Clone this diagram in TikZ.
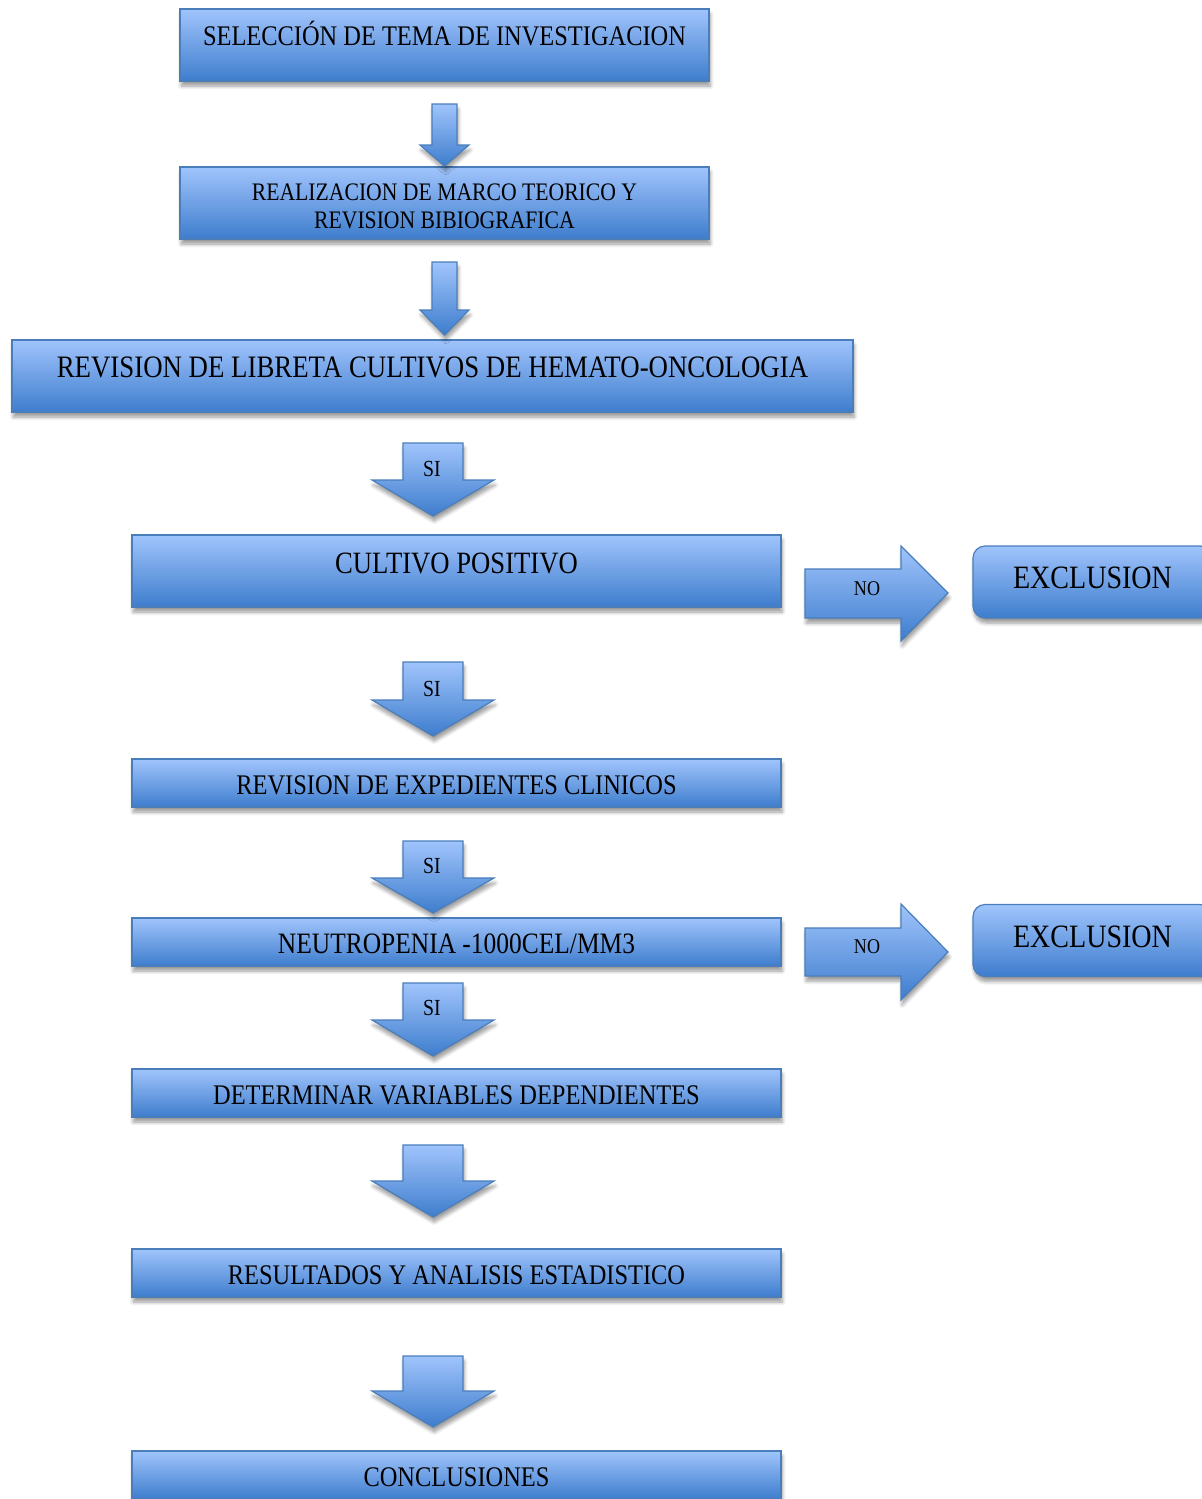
\documentclass[tikz,border=0pt]{standalone}
\usepackage{fontspec}
\setmainfont{Liberation Serif}[FakeStretch=0.86]
\usetikzlibrary{shadows.blur}
\definecolor{boxtop}{RGB}{160,196,252}
\definecolor{boxbot}{RGB}{62,125,205}
\definecolor{boxline}{RGB}{74,126,187}
\tikzset{%
	bluefill/.style = {draw=boxline, line width=0.6pt, top color=boxtop, bottom color=boxbot,
		blur shadow={shadow xshift=0.6pt, shadow yshift=-2.5pt, shadow blur steps=6, shadow opacity=40}},
	block/.style    = {bluefill, rectangle, inner sep=0pt, minimum height=24pt, minimum width=324.5pt,
		font=\fontsize{14.2pt}{14pt}\selectfont}, % step box
	caps/.style     = {text height=11.4pt, text depth=0pt},
	tall/.style     = {minimum height=36pt, text height=9.4pt, text depth=9pt},
	bigtext/.style  = {font=\fontsize{16.3pt}{18pt}\selectfont, text height=10.8pt},
	exclbox/.style  = {bluefill, rectangle, rounded corners=6pt, inner sep=0pt, minimum width=119.5pt,
		minimum height=36pt, bigtext}, % Exclusion
	lbl/.style      = {inner sep=0pt, font=\fontsize{11.5pt}{12pt}\selectfont, text height=7.6pt, text depth=0pt},
	nolbl/.style    = {lbl, font=\fontsize{10.5pt}{12pt}\selectfont, text height=7pt},
}
\begin{document}
\begin{tikzpicture}[x=0.5pt, y=-0.5pt]
	\useasboundingbox (0,0) rectangle (1202,1499);
	\clip (0,0) rectangle (1202,1499);
	% main column
	\node[block, tall, minimum width=264.5pt] (tema) at (444.5,45) {SELECCIÓN DE TEMA DE INVESTIGACION};
	\node[block, minimum width=264.5pt, minimum height=36pt, align=center,
		font=\fontsize{12.6pt}{14pt}\selectfont] (marco) at (444.5,203)
		{\rule{0pt}{11.3pt}REALIZACION DE MARCO TEORICO Y\\REVISION BIBIOGRAFICA};
	\node[block, tall, font=\fontsize{15.6pt}{18pt}\selectfont, text height=10.3pt, minimum width=420.5pt]
		(libreta) at (432.5,376) {REVISION DE LIBRETA CULTIVOS DE HEMATO-ONCOLOGIA};
	\node[block, tall, font=\fontsize{15.5pt}{18pt}\selectfont, text height=10.3pt, text depth=8pt]
		(cultivo) at (456.5,571) {CULTIVO POSITIVO};
	\node[block, caps] (expedientes) at (456.5,783) {REVISION DE EXPEDIENTES CLINICOS};
	\node[block, caps, font=\fontsize{14.8pt}{14pt}\selectfont, text height=11.8pt] (neutro) at (456.5,942)
		{NEUTROPENIA -1000CEL/MM3};
	\node[block, caps] (variables) at (456.5,1093) {DETERMINAR VARIABLES DEPENDIENTES};
	\node[block, caps] (resultados) at (456.5,1273) {RESULTADOS Y ANALISIS ESTADISTICO};
	\node[block, caps] (conclusiones) at (456.5,1475) {CONCLUSIONES};
	% exclusions
	\node[exclbox, text depth=4pt] (excl1) at (1092.5,582) {EXCLUSION};
	\node[exclbox, text depth=3.5pt] (excl2) at (1092.5,940.5) {EXCLUSION};

	% down arrows
	\draw[bluefill] (432,104) -- (457,104) -- (457,145) -- (469,145) -- (444.5,166) -- (420,145) -- (432,145) -- cycle;
	\draw[bluefill] (432,262) -- (457,262) -- (457,310) -- (469,310) -- (444.5,335) -- (420,310) -- (432,310) -- cycle;
	\draw[bluefill] (403,443) -- (463,443) -- (463,480) -- (494,480) -- (433,516) -- (372,480) -- (403,480) -- cycle;
	\draw[bluefill] (403,662) -- (463,662) -- (463,700) -- (494,700) -- (433,736) -- (372,700) -- (403,700) -- cycle;
	\draw[bluefill] (403,841) -- (463,841) -- (463,878) -- (494,878) -- (433,913) -- (372,878) -- (403,878) -- cycle;
	\draw[bluefill] (403,983) -- (463,983) -- (463,1020) -- (494,1020) -- (433,1056) -- (372,1020) -- (403,1020) -- cycle;
	\draw[bluefill] (403,1145) -- (463,1145) -- (463,1181) -- (494,1181) -- (433,1217) -- (372,1181) -- (403,1181) -- cycle;
	\draw[bluefill] (403,1356) -- (463,1356) -- (463,1391) -- (494,1391) -- (433,1427) -- (372,1391) -- (403,1391) -- cycle;
	\node[lbl] (si1) at (432,469) {SI};
	\node[lbl] (si2) at (432,689) {SI};
	\node[lbl] (si3) at (432,866) {SI};
	\node[lbl] (si4) at (432,1008) {SI};

	% right arrows
	\draw[bluefill] (805,569) -- (901,569) -- (901,546) -- (948,593) -- (901,641) -- (901,618) -- (805,618) -- cycle;
	\draw[bluefill] (805,928) -- (901,928) -- (901,904) -- (948,952) -- (901,1000) -- (901,976) -- (805,976) -- cycle;
	\node[nolbl] (no1) at (867,588) {NO};
	\node[nolbl] (no2) at (867,946) {NO};
\end{tikzpicture}
\end{document}
